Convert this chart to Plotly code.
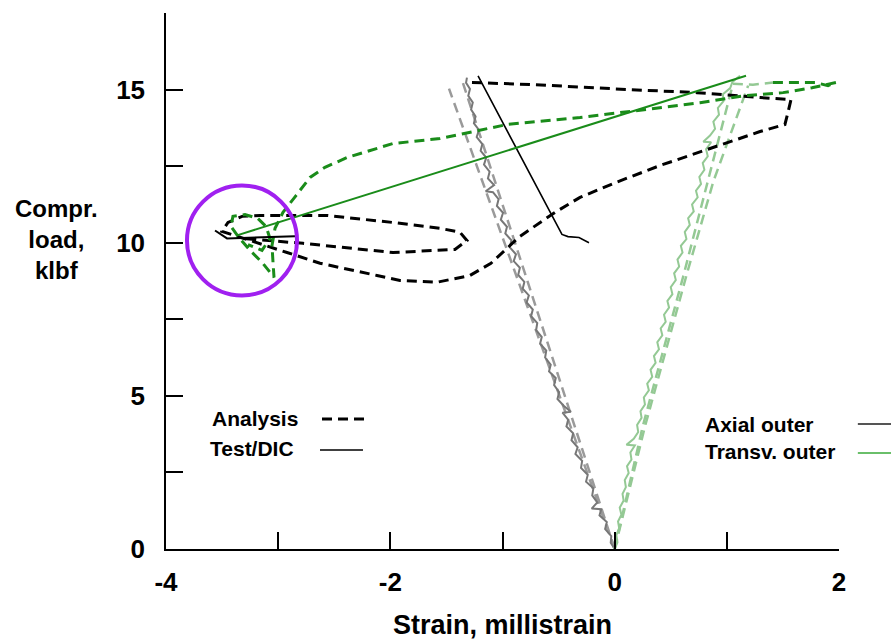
import plotly.graph_objects as go

# ---- axial outer gauge (strain in millistrain, load in klbf) ----
axial_test_load = [0.00, 0.20, 0.42, 0.65, 0.88, 1.10, 1.30, 1.32, 1.52, 1.75, 1.98, 2.20,
                   2.42, 2.65, 2.88, 3.10, 3.32, 3.55, 3.78, 4.00, 4.22, 4.45, 4.48, 4.68,
                   4.90, 5.12, 5.35, 5.58, 5.80, 6.02, 6.25, 6.48, 6.70, 6.92, 7.15, 7.38,
                   7.60, 7.82, 8.05, 8.28, 8.50, 8.72, 8.95, 9.18, 9.40, 9.62, 9.85, 10.08,
                   10.30, 10.52, 10.75, 10.98, 11.20, 11.42, 11.65, 11.68, 11.88, 12.10,
                   12.32, 12.55, 12.78, 13.00, 13.22, 13.45, 13.68, 13.90, 14.12, 14.35,
                   14.58, 14.80, 15.02, 15.22, 15.39]
axial_test_strain = [0.000, -0.035, -0.030, -0.085, -0.070, -0.135, -0.120, -0.205, -0.155,
                     -0.200, -0.190, -0.255, -0.240, -0.300, -0.290, -0.350, -0.330, -0.385,
                     -0.370, -0.430, -0.415, -0.465, -0.390, -0.455, -0.510, -0.495, -0.540,
                     -0.525, -0.585, -0.570, -0.620, -0.610, -0.665, -0.650, -0.700, -0.690,
                     -0.745, -0.730, -0.785, -0.765, -0.820, -0.805, -0.860, -0.845, -0.900,
                     -0.880, -0.935, -0.920, -0.975, -0.960, -1.015, -0.995, -1.050, -1.035,
                     -1.085, -1.150, -1.075, -1.130, -1.115, -1.165, -1.145, -1.195, -1.180,
                     -1.230, -1.210, -1.255, -1.240, -1.280, -1.265, -1.305, -1.290, -1.325,
                     -1.317]

axial_an1_load = [0.0, 5.0, 10.0, 15.03]
axial_an1_strain = [0.0, -0.49, -0.98, -1.477]
axial_an2_load = [0.0, 5.0, 10.0, 15.3]
axial_an2_strain = [0.0, -0.445, -0.89, -1.36]

# post-buckling axial, test (DIC)
axial_post_test_strain = [-1.218, -0.470, -0.416, -0.318, -0.229]
axial_post_test_load = [15.45, 10.27, 10.20, 10.17, 10.00]
axial_post_test2_strain = [-3.563, -3.456, -2.850]
axial_post_test2_load = [10.40, 10.14, 10.21]

# post-buckling axial, analysis
axial_post_an_strain = [-1.272, -0.710, 0.128, 0.734, 1.296, 1.572, 1.545, 1.518, 1.296, 0.850,
                        0.404, 0.012, -0.309, -0.532, -0.844, -1.103, -1.290, -1.584, -1.914,
                        -2.119, -2.627, -2.921, -3.251, -3.501, -3.447, -3.322, -3.162, -2.565,
                        -1.976, -1.557, -1.379, -1.317, -1.424, -1.976, -2.779, -3.322]
axial_post_an_load = [15.23, 15.16, 15.00, 14.90, 14.74, 14.67, 14.25, 13.86, 13.63, 13.07,
                      12.52, 11.97, 11.48, 10.99, 10.21, 9.33, 8.93, 8.71, 8.77, 8.93, 9.33,
                      9.68, 10.07, 10.37, 10.66, 10.86, 10.89, 10.89, 10.66, 10.47, 10.34,
                      10.07, 9.78, 9.68, 9.98, 10.14]

# ---- transverse outer gauge ----
transv_test_load = [0.00, 0.22, 0.45, 0.68, 0.90, 1.12, 1.35, 1.58, 1.80, 2.02, 2.25, 2.48,
                    2.70, 2.92, 3.15, 3.38, 3.40, 3.60, 3.82, 4.05, 4.28, 4.50, 4.72, 4.95,
                    5.18, 5.40, 5.62, 5.85, 6.08, 6.30, 6.52, 6.75, 6.98, 7.20, 7.42, 7.65,
                    7.88, 8.10, 8.32, 8.55, 8.78, 9.00, 9.22, 9.45, 9.68, 9.90, 10.12, 10.35,
                    10.58, 10.80, 11.02, 11.25, 11.48, 11.70, 11.92, 12.15, 12.38, 12.60,
                    12.82, 13.05, 13.28, 13.30, 13.50, 13.72, 13.95, 14.18, 14.40, 14.62,
                    14.85, 15.05, 15.25, 15.45]
transv_test_strain = [0.000, 0.025, 0.015, 0.040, 0.030, 0.060, 0.045, 0.080, 0.070, 0.100,
                      0.090, 0.125, 0.110, 0.150, 0.140, 0.180, 0.105, 0.170, 0.210, 0.200,
                      0.240, 0.230, 0.270, 0.260, 0.305, 0.290, 0.335, 0.320, 0.365, 0.350,
                      0.395, 0.380, 0.425, 0.410, 0.455, 0.440, 0.485, 0.470, 0.515, 0.500,
                      0.545, 0.530, 0.575, 0.560, 0.605, 0.590, 0.640, 0.625, 0.670, 0.655,
                      0.705, 0.690, 0.740, 0.725, 0.770, 0.755, 0.800, 0.785, 0.830, 0.815,
                      0.860, 0.790, 0.850, 0.895, 0.880, 0.930, 0.920, 0.970, 0.965, 1.030,
                      1.050, 1.117]

transv_an1_load = [0.0, 4.0, 8.87, 12.0, 15.19, 15.16, 15.23]
transv_an1_strain = [0.0, 0.25, 0.609, 0.83, 1.055, 1.233, 1.411]
transv_an2_load = [0.0, 4.0, 9.0, 12.0, 15.13]
transv_an2_strain = [0.0, 0.27, 0.645, 0.88, 1.19]

# post-buckling transverse, test (DIC)
transv_post_test_strain = [1.171, -3.367]
transv_post_test_load = [15.45, 10.24]

# post-buckling transverse, analysis
transv_post_an_strain = [1.411, 1.786, 1.902, 1.973, 1.759, 1.501, 1.153, 0.761, 0.190, -0.309,
                         -0.960, -1.557, -1.976, -2.386, -2.583, -2.716, -2.841, -2.957, -3.028,
                         -3.055, -3.046, -3.037, -3.144, -3.251, -3.358, -3.421, -3.403, -3.296,
                         -3.180, -3.108, -3.073, -3.144, -3.269]
transv_post_an_load = [15.23, 15.23, 15.13, 15.23, 15.06, 14.90, 14.80, 14.57, 14.31, 14.09,
                       13.86, 13.40, 13.24, 12.78, 12.46, 12.13, 11.54, 10.99, 10.47, 9.91,
                       9.36, 8.87, 9.36, 9.75, 10.21, 10.53, 10.86, 10.92, 10.79, 10.53,
                       10.14, 9.75, 9.94]

x_tickvals = [-4, -3, -2, -1, 0, 1, 2]
x_ticktext = ["-4", "", "-2", "", "0", "", "2"]
y_tickvals = [0, 2.5, 5, 7.5, 10, 12.5, 15, 17.5]
y_ticktext = ["0", "", "5", "", "10", "", "15", ""]

GRAY_TEST = "#777777"
GRAY_AN = "#9a9a9a"
LGREEN = "#94c994"
DGREEN = "#1a8c1a"
DASH = "10px,6px"

fig = go.Figure()


def line(x, y, color, width, dash="solid"):
    fig.add_trace(go.Scatter(x=x, y=y, mode="lines", showlegend=False, hoverinfo="skip",
                             line=dict(color=color, width=width, dash=dash)))


# pre-buckling
line(axial_an1_strain, axial_an1_load, GRAY_AN, 2.5, DASH)
line(axial_an2_strain, axial_an2_load, GRAY_AN, 2.5, DASH)
line(axial_test_strain, axial_test_load, GRAY_TEST, 2)
line(transv_an1_strain, transv_an1_load, LGREEN, 2.5, DASH)
line(transv_an2_strain, transv_an2_load, LGREEN, 2.5, DASH)
line(transv_test_strain, transv_test_load, LGREEN, 2)
# post-buckling
line(axial_post_an_strain, axial_post_an_load, "black", 3, DASH)
line(transv_post_an_strain, transv_post_an_load, DGREEN, 3, DASH)
line(axial_post_test_strain, axial_post_test_load, "black", 1.6)
line(axial_post_test2_strain, axial_post_test2_load, "black", 2)
line(transv_post_test_strain, transv_post_test_load, DGREEN, 2)

FONT = "Liberation Sans"

# circle marking the buckling region
fig.add_shape(type="circle", xref="x", yref="y", x0=-3.813, x1=-2.832, y0=8.28, y1=11.87,
              line=dict(color="#a020f0", width=4))


def key_text(x, y, text):
    fig.add_annotation(xref="paper", yref="paper", x=x, y=y, text=text, showarrow=False,
                       xanchor="left", yanchor="middle",
                       font=dict(family=FONT, size=21, color="black", weight="bold"))


def key_line(x0, x1, y, color, width, dash="solid"):
    fig.add_shape(type="line", xref="paper", yref="paper", x0=x0, x1=x1, y0=y, y1=y,
                  line=dict(color=color, width=width, dash=dash))


key_text(0.0654, 0.2444, "Analysis")
key_line(0.2318, 0.2957, 0.2425, "black", 3, DASH)
key_text(0.0624, 0.1866, "Test/DIC")
key_line(0.2288, 0.2927, 0.1847, "black", 1.6)
key_text(0.798, 0.2332, "Axial outer")
key_line(1.028, 1.08, 0.2332, "#555555", 2)
key_text(0.798, 0.1828, "Transv. outer")
key_line(1.028, 1.08, 0.1791, "#6abf6a", 2)

# axis titles
fig.add_annotation(xref="paper", yref="paper", x=-0.162, y=0.5765,
                   text="Compr.<br>load,<br>klbf", showarrow=False, align="center",
                   xanchor="center", yanchor="middle",
                   font=dict(family=FONT, size=24, color="black", weight="bold"))
fig.add_annotation(xref="paper", yref="paper", x=0.5, y=-0.1418,
                   text="Strain, millistrain", showarrow=False,
                   xanchor="center", yanchor="middle",
                   font=dict(family=FONT, size=27, color="black", weight="bold"))

axis_common = dict(showline=True, linecolor="black", linewidth=1.5, ticks="inside",
                   ticklen=17, tickwidth=1.5, tickcolor="black", showgrid=False,
                   zeroline=False,
                   tickfont=dict(family=FONT, size=26, color="black", weight="bold"))

fig.update_layout(
    width=891, height=640,
    margin=dict(l=166, r=52, t=13, b=91),
    paper_bgcolor="white", plot_bgcolor="white",
    xaxis=dict(range=[-4, 2], tickvals=x_tickvals, ticktext=x_ticktext,
               ticklabelstandoff=9, **axis_common),
    yaxis=dict(range=[0, 17.5], tickvals=y_tickvals, ticktext=y_ticktext,
               ticklabelstandoff=14, **axis_common),
)

fig.write_html("out.html")
